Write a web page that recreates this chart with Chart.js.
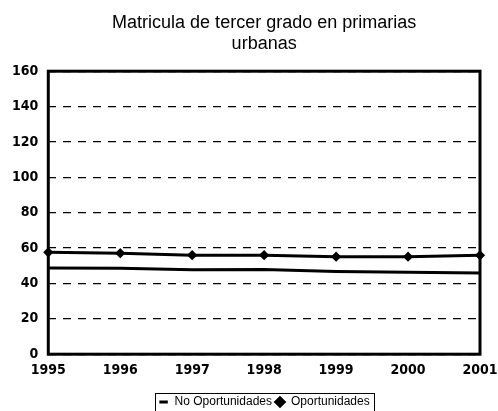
<!DOCTYPE html>
<html>
<head>
<meta charset="utf-8">
<script src="https://cdn.jsdelivr.net/npm/chart.js@4"></script>
<style>
  body { margin: 0; background: #fff; }
  #wrap { width: 498px; height: 411px; }
</style>
</head>
<body>
<div id="wrap"><canvas id="chart"></canvas></div>
<script>
const years = ['1995', '1996', '1997', '1998', '1999', '2000', '2001'];
const noOportunidades = [48.8, 48.6, 47.8, 47.9, 46.8, 46.3, 45.9];
const oportunidades = [57.6, 57.1, 56.0, 56.0, 55.1, 55.1, 55.9];
const yTicks = [0, 20, 40, 60, 80, 100, 120, 140, 160];

const tickFont = { family: 'DejaVu Sans Condensed, Liberation Sans', size: 14, weight: 'bold' };

// thick frame around the plot and box around the legend items
const frame = {
    id: 'frame',
    afterDraw(chart) {
        const ctx = chart.ctx;
        const a = chart.chartArea;
        ctx.save();
        ctx.strokeStyle = '#000';
        ctx.lineWidth = 3;
        ctx.strokeRect(a.left, a.top, a.right - a.left, a.bottom - a.top);
        const boxes = chart.legend.legendHitBoxes;
        if (boxes && boxes.length) {
            const l = Math.min(...boxes.map(b => b.left)) - 4;
            const r = Math.max(...boxes.map(b => b.left + b.width)) + 4;
            const t = Math.min(...boxes.map(b => b.top)) - 3;
            const bt = Math.max(...boxes.map(b => b.top + b.height)) + 3;
            ctx.lineWidth = 1;
            ctx.strokeRect(Math.round(l) + 0.5, Math.round(t) + 0.5, Math.round(r - l), Math.round(bt - t));
        }
        ctx.restore();
    }
};

const ctx = document.getElementById('chart').getContext('2d');
new Chart(ctx, {
    type: 'line',
    data: {
        labels: years,
        datasets: [{
            label: 'No Oportunidades',
            data: noOportunidades,
            borderColor: '#000',
            backgroundColor: '#000',
            borderWidth: 3,
            pointRadius: 0,
            pointStyle: 'line',
            tension: 0
        }, {
            label: 'Oportunidades',
            data: oportunidades,
            borderColor: '#000',
            backgroundColor: '#000',
            borderWidth: 3,
            pointRadius: 3,
            pointStyle: 'rectRot',
            tension: 0
        }]
    },
    options: {
        responsive: true,
        maintainAspectRatio: false,
        animation: false,
        layout: { padding: { left: 2, right: 18, top: 12, bottom: -7 } },
        plugins: {
            title: {
                display: true,
                fullSize: false,
                text: ['Matricula de tercer grado en primarias', 'urbanas'],
                color: '#000',
                font: { family: 'Liberation Sans', size: 18, weight: 'normal' },
                padding: { top: 0, bottom: 16 },
                lineHeight: 1.2
            },
            legend: {
                position: 'bottom',
                fullSize: false,
                labels: {
                    color: '#000',
                    usePointStyle: true,
                    boxWidth: 10,
                    boxHeight: 6,
                    padding: 3,
                    font: { family: 'Liberation Sans', size: 12 }
                }
            },
            tooltip: { enabled: false }
        },
        scales: {
            x: {
                offset: false,
                grid: { display: false, drawTicks: false },
                border: { display: false },
                ticks: {
                    color: '#000',
                    padding: 8,
                    maxRotation: 0,
                    font: tickFont
                },
                afterFit(axis) {
                    axis.height += 6;
                    axis.paddingRight = 0;
                }
            },
            y: {
                min: 0,
                max: 160,
                afterBuildTicks(axis) {
                    axis.ticks = yTicks.map(v => ({ value: v }));
                },
                grid: { color: '#000', lineWidth: 1.2, drawTicks: false },
                border: { display: false, dash: [8, 7] },
                ticks: {
                    color: '#000',
                    padding: 10,
                    font: tickFont
                }
            }
        }
    },
    plugins: [frame]
});
</script>
</body>
</html>
